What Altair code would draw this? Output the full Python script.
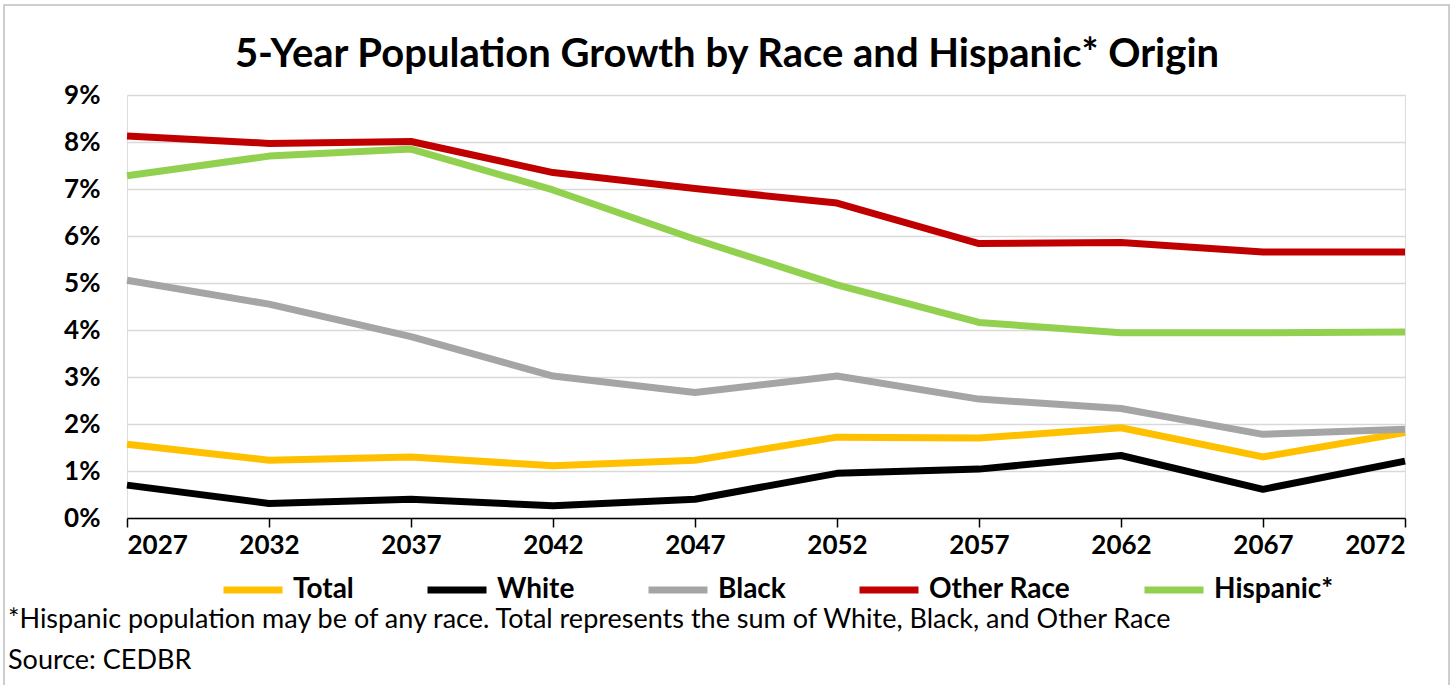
import altair as alt
import pandas as pd

years = [2027, 2032, 2037, 2042, 2047, 2052, 2057, 2062, 2067, 2072]
total = [1.57, 1.23, 1.30, 1.11, 1.23, 1.72, 1.70, 1.92, 1.30, 1.82]
white = [0.70, 0.31, 0.40, 0.26, 0.40, 0.95, 1.04, 1.33, 0.61, 1.21]
black = [5.06, 4.55, 3.86, 3.02, 2.67, 3.02, 2.53, 2.33, 1.78, 1.89]
other_race = [8.13, 7.97, 8.01, 7.35, 7.01, 6.70, 5.84, 5.86, 5.66, 5.66]
hispanic = [7.28, 7.70, 7.85, 6.98, 5.93, 4.96, 4.16, 3.94, 3.94, 3.96]

series_names = ["Total", "White", "Black", "Other Race", "Hispanic*"]
series_colors = ["#FFC000", "#000000", "#A5A5A5", "#C00000", "#92D050"]
series_values = [total, white, black, other_race, hispanic]

title_text = "5-Year Population Growth by Race and Hispanic* Origin"
note_text = "*Hispanic population may be of any race. Total represents the sum of White, Black, and Other Race"
source_text = "Source: CEDBR"

rows = []
for name, vals in zip(series_names, series_values):
    for yr, v in zip(years, vals):
        rows.append({"Year": yr, "Growth": v, "Series": name, "order": series_names.index(name)})
df = pd.DataFrame(rows)

FONT = "Lato"
W, H = 1278, 423

lines = alt.Chart(df).mark_line(strokeWidth=7, strokeJoin="round", strokeCap="butt").encode(
    x=alt.X("Year:Q",
            scale=alt.Scale(domain=[years[0], years[-1]], nice=False, zero=False),
            axis=alt.Axis(values=years, format="d", title=None, grid=False,
                          domainColor="#000000", domainWidth=1.5,
                          tickColor="#000000", tickWidth=1.5, tickSize=9,
                          labelFont=FONT, labelFontSize=26, labelFontWeight="bold",
                          labelColor="#000000", labelPadding=5)),
    y=alt.Y("Growth:Q",
            scale=alt.Scale(domain=[0, 9], nice=False),
            axis=alt.Axis(values=list(range(0, 10)), labelExpr="datum.value + '%'",
                          title=None, domain=False, ticks=False, tickSize=0,
                          gridColor="#D9D9D9", gridWidth=1.5,
                          labelFont=FONT, labelFontSize=26, labelFontWeight="bold",
                          labelColor="#000000", labelPadding=27)),
    color=alt.Color("Series:N",
                    scale=alt.Scale(domain=series_names, range=series_colors),
                    legend=alt.Legend(title=None, orient="none", direction="horizontal",
                                      legendX=93, legendY=462, columns=5,
                                      symbolType="M-1,0H1", symbolSize=3481,
                                      symbolStrokeWidth=7, labelOffset=7,
                                      columnPadding=59,
                                      labelFont=FONT, labelFontSize=28,
                                      labelFontWeight="bold", labelColor="#000000")),
    order=alt.Order("order:Q"),
)

note = alt.Chart(pd.DataFrame({"t": [note_text]})).mark_text(
    align="left", baseline="middle", font=FONT, fontSize=27, color="#000000"
).encode(text="t:N", x=alt.value(-119), y=alt.value(525))

source = alt.Chart(pd.DataFrame({"t": [source_text]})).mark_text(
    align="left", baseline="middle", font=FONT, fontSize=27, color="#000000"
).encode(text="t:N", x=alt.value(-119), y=alt.value(566))

border = alt.Chart(pd.DataFrame({"a": [0]})).mark_rect(
    fill=None, stroke="#BFBFBF", strokeWidth=1.5
).encode(x=alt.value(-123), x2=alt.value(1322), y=alt.value(-90), y2=alt.value(600))

chart = alt.layer(border, lines, note, source).properties(
    width=W, height=H,
    title=alt.TitleParams(title_text, font=FONT, fontSize=40, fontWeight="bold",
                          color="#000000", anchor="middle", frame="group",
                          baseline="alphabetic", dx=-39, offset=-103),
    autosize=alt.AutoSizeParams(type="none"),
    padding={"left": 127, "top": 95, "right": 48, "bottom": 167},
).configure_view(stroke=None).configure(background="#FFFFFF")

chart.save("out.html", embed_options={"renderer": "svg", "actions": False})
